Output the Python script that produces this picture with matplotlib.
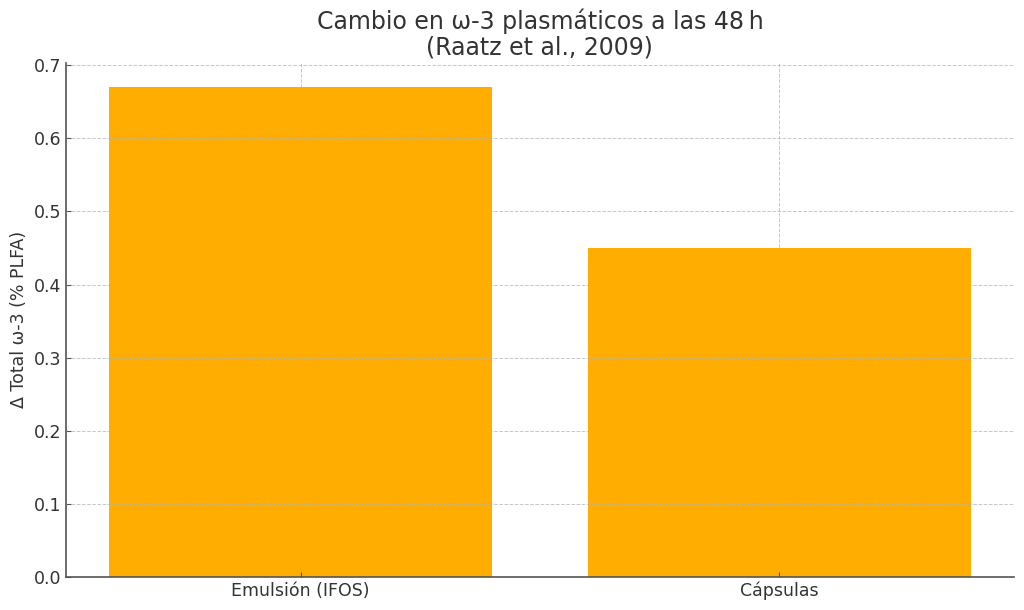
import matplotlib
matplotlib.use("Agg")
import matplotlib.pyplot as plt

categories = ["Emulsión (IFOS)", "Cápsulas"]
delta_omega3 = [0.67, 0.45]

title = "Cambio en ω-3 plasmáticos a las 48\u2009h\n(Raatz et al., 2009)"
ylabel = "Δ Total ω-3 (% PLFA)"

plt.rcParams["font.family"] = ["DejaVu Sans"]
text_color = "#333333"

fig, ax = plt.subplots(figsize=(10.24, 6.1), dpi=100)
fig.subplots_adjust(left=0.0645, right=0.990, bottom=0.054, top=0.8975)

ax.bar(categories, delta_omega3, width=0.8, color="#ffad00")

ax.set_title(title, fontsize=17, color=text_color, pad=6, linespacing=1.05)
ax.set_ylabel(ylabel, fontsize=12.5, color=text_color)

ax.grid(True, linestyle="--", linewidth=0.7, color="#b0b0b0", alpha=0.7)
ax.set_axisbelow(False)

for side in ["top", "right"]:
    ax.spines[side].set_visible(False)
for side in ["left", "bottom"]:
    ax.spines[side].set_color("#555555")
    ax.spines[side].set_linewidth(1.2)

ax.tick_params(direction="in", labelsize=12.5, colors="#555555", labelcolor=text_color)

fig.savefig("out.png", dpi=100)
